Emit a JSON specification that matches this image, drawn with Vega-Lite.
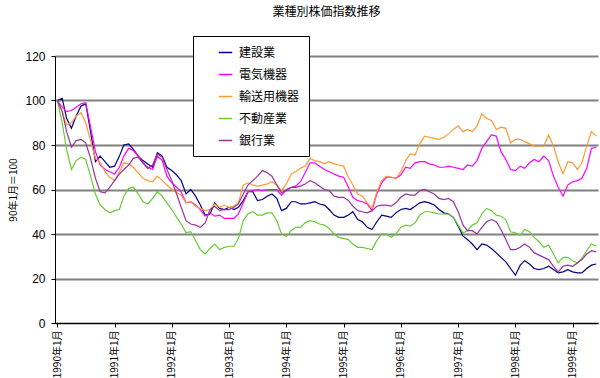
{
  "$schema": "https://vega.github.io/schema/vega-lite/v6.json",
  "width": 543,
  "height": 267,
  "autosize": {"type": "none"},
  "padding": {"left": 55, "top": 56, "right": 2, "bottom": 55},
  "background": "white",
  "title": {"text": "業種別株価指数推移", "font": "Noto Sans CJK JP", "fontSize": 12, "fontWeight": "normal", "color": "black", "frame": "group", "offset": 17},
  "data": {
    "values": [
      {"d":"1990/01/01","建設業":100,"電気機器":100,"輸送用機器":100,"不動産業":100,"銀行業":100},
      {"d":"1990/02/01","建設業":101,"電気機器":97,"輸送用機器":95,"不動産業":90,"銀行業":95},
      {"d":"1990/03/01","建設業":92,"電気機器":95,"輸送用機器":89,"不動産業":78,"銀行業":86},
      {"d":"1990/04/01","建設業":87.5,"電気機器":95.5,"輸送用機器":90,"不動産業":69,"銀行業":79},
      {"d":"1990/05/01","建設業":93,"電気機器":97,"輸送用機器":93,"不動産業":73,"銀行業":82},
      {"d":"1990/06/01","建設業":97.5,"電気機器":98.5,"輸送用機器":94.5,"不動産業":74.5,"銀行業":82.5},
      {"d":"1990/07/01","建設業":98.5,"電気機器":99,"輸送用機器":90,"不動産業":73.5,"銀行業":81},
      {"d":"1990/08/01","建設業":86,"電気機器":88,"輸送用機器":82,"不動産業":66,"銀行業":74},
      {"d":"1990/09/01","建設業":72.5,"電気機器":77,"輸送用機器":74,"不動産業":58,"銀行業":65},
      {"d":"1990/10/01","建設業":75,"電気機器":71,"輸送用機器":72,"不動産業":53,"銀行業":59},
      {"d":"1990/11/01","建設業":72.5,"電気機器":69,"輸送用機器":68,"不動産業":51,"銀行業":58.5},
      {"d":"1990/12/01","建設業":70,"電気機器":68,"輸送用機器":65.5,"不動産業":49.5,"銀行業":61},
      {"d":"1991/01/01","建設業":70.5,"電気機器":67,"輸送用機器":64,"不動産業":50.5,"銀行業":64},
      {"d":"1991/02/01","建設業":75,"電気機器":70,"輸送用機器":68,"不動産業":51,"銀行業":67},
      {"d":"1991/03/01","建設業":80,"電気機器":75,"輸送用機器":72,"不動産業":57,"銀行業":69},
      {"d":"1991/04/01","建設業":80.5,"電気機器":78.5,"輸送用機器":71.5,"不動産業":60.5,"銀行業":71},
      {"d":"1991/05/01","建設業":78,"電気機器":77.5,"輸送用機器":70,"不動産業":61,"銀行業":74},
      {"d":"1991/06/01","建設業":75,"電気機器":75,"輸送用機器":67.5,"不動産業":58,"銀行業":74.5},
      {"d":"1991/07/01","建設業":73,"電気機器":72,"輸送用機器":65,"不動産業":54.5,"銀行業":72},
      {"d":"1991/08/01","建設業":71.5,"電気機器":70,"輸送用機器":64,"不動産業":53.5,"銀行業":69.5},
      {"d":"1991/09/01","建設業":70,"電気機器":69,"輸送用機器":63.5,"不動産業":56,"銀行業":71},
      {"d":"1991/10/01","建設業":76.5,"電気機器":75,"輸送用機器":66,"不動産業":59,"銀行業":76},
      {"d":"1991/11/01","建設業":75,"電気機器":73,"輸送用機器":64,"不動産業":57,"銀行業":74.5},
      {"d":"1991/12/01","建設業":70,"電気機器":66,"輸送用機器":62,"不動産業":54,"銀行業":69},
      {"d":"1992/01/01","建設業":68.5,"電気機器":63,"輸送用機器":60,"不動産業":51,"銀行業":64},
      {"d":"1992/02/01","建設業":66.5,"電気機器":61,"輸送用機器":58.5,"不動産業":47.5,"銀行業":58},
      {"d":"1992/03/01","建設業":64,"電気機器":59,"輸送用機器":57.5,"不動産業":44.5,"銀行業":52},
      {"d":"1992/04/01","建設業":58,"電気機器":54,"輸送用機器":54,"不動産業":40.5,"銀行業":46},
      {"d":"1992/05/01","建設業":60,"電気機器":54.5,"輸送用機器":54.5,"不動産業":41,"銀行業":44.5},
      {"d":"1992/06/01","建設業":57,"電気機器":53,"輸送用機器":52.5,"不動産業":37,"銀行業":44},
      {"d":"1992/07/01","建設業":53,"電気機器":51,"輸送用機器":51.5,"不動産業":33,"銀行業":43},
      {"d":"1992/08/01","建設業":48.5,"電気機器":48,"輸送用機器":50.5,"不動産業":31,"銀行業":45},
      {"d":"1992/09/01","建設業":49,"電気機器":49.5,"輸送用機器":51,"不動産業":33.5,"銀行業":51},
      {"d":"1992/10/01","建設業":54,"電気機器":48,"輸送用機器":53.5,"不動産業":35.5,"銀行業":52.5},
      {"d":"1992/11/01","建設業":51.5,"電気機器":48.5,"輸送用機器":52,"不動産業":33,"銀行業":50.5},
      {"d":"1992/12/01","建設業":51,"電気機器":47,"輸送用機器":53,"不動産業":34,"銀行業":51},
      {"d":"1993/01/01","建設業":52,"電気機器":47,"輸送用機器":52,"不動産業":34.5,"銀行業":51},
      {"d":"1993/02/01","建設業":51,"電気機器":47,"輸送用機器":52.5,"不動産業":34.5,"銀行業":52},
      {"d":"1993/03/01","建設業":52,"電気機器":49,"輸送用機器":54,"不動産業":38,"銀行業":53.5},
      {"d":"1993/04/01","建設業":55,"電気機器":54,"輸送用機器":62,"不動産業":46,"銀行業":58},
      {"d":"1993/05/01","建設業":59,"電気機器":59,"輸送用機器":63,"不動産業":49,"銀行業":62},
      {"d":"1993/06/01","建設業":59,"電気機器":59.5,"輸送用機器":62,"不動産業":50,"銀行業":64},
      {"d":"1993/07/01","建設業":55,"電気機器":60,"輸送用機器":61.5,"不動産業":48.5,"銀行業":66},
      {"d":"1993/08/01","建設業":55.5,"電気機器":59.5,"輸送用機器":62,"不動産業":48.5,"銀行業":68.5},
      {"d":"1993/09/01","建設業":57,"電気機器":60,"輸送用機器":62.5,"不動産業":49.5,"銀行業":67.5},
      {"d":"1993/10/01","建設業":58,"電気機器":60,"輸送用機器":63.5,"不動産業":49.5,"銀行業":66},
      {"d":"1993/11/01","建設業":56,"電気機器":60,"輸送用機器":62,"不動産業":46,"銀行業":62},
      {"d":"1993/12/01","建設業":50.5,"電気機器":57.5,"輸送用機器":59.5,"不動産業":40,"銀行業":58.5},
      {"d":"1994/01/01","建設業":51.5,"電気機器":60,"輸送用機器":62.5,"不動産業":39,"銀行業":59.5},
      {"d":"1994/02/01","建設業":54.5,"電気機器":61,"輸送用機器":67,"不動産業":41.5,"銀行業":61},
      {"d":"1994/03/01","建設業":54.5,"電気機器":61.5,"輸送用機器":68,"不動産業":43,"銀行業":61},
      {"d":"1994/04/01","建設業":53.5,"電気機器":63.5,"輸送用機器":69.5,"不動産業":43,"銀行業":61.5},
      {"d":"1994/05/01","建設業":53.5,"電気機器":67.5,"輸送用機器":70.5,"不動産業":45,"銀行業":62.5},
      {"d":"1994/06/01","建設業":54,"電気機器":72,"輸送用機器":74,"不動産業":46,"銀行業":64},
      {"d":"1994/07/01","建設業":54.5,"電気機器":72,"輸送用機器":73,"不動産業":45.5,"銀行業":63},
      {"d":"1994/08/01","建設業":53.5,"電気機器":70.5,"輸送用機器":72.5,"不動産業":44.5,"銀行業":61.5},
      {"d":"1994/09/01","建設業":53,"電気機器":69,"輸送用機器":71.5,"不動産業":44,"銀行業":60},
      {"d":"1994/10/01","建設業":51,"電気機器":68,"輸送用機器":72.5,"不動産業":42.5,"銀行業":59.5},
      {"d":"1994/11/01","建設業":48.5,"電気機器":67,"輸送用機器":71.5,"不動産業":40,"銀行業":57},
      {"d":"1994/12/01","建設業":47.5,"電気機器":66,"輸送用機器":71,"不動産業":38.5,"銀行業":56.5},
      {"d":"1995/01/01","建設業":47.5,"電気機器":65.5,"輸送用機器":70.5,"不動産業":38,"銀行業":56.5},
      {"d":"1995/02/01","建設業":48.5,"電気機器":61,"輸送用機器":65.5,"不動産業":37.5,"銀行業":55},
      {"d":"1995/03/01","建設業":50,"電気機器":56.5,"輸送用機器":62,"不動産業":35.5,"銀行業":52.5},
      {"d":"1995/04/01","建設業":46.5,"電気機器":55,"輸送用機器":58,"不動産業":34,"銀行業":50.5},
      {"d":"1995/05/01","建設業":45.5,"電気機器":54.5,"輸送用機器":57,"不動産業":34,"銀行業":50},
      {"d":"1995/06/01","建設業":43,"電気機器":53.5,"輸送用機器":54,"不動産業":33.5,"銀行業":49.5},
      {"d":"1995/07/01","建設業":42,"電気機器":50.5,"輸送用機器":51.5,"不動産業":33,"銀行業":50.5},
      {"d":"1995/08/01","建設業":45.5,"電気機器":58,"輸送用機器":59,"不動産業":37,"銀行業":52.5},
      {"d":"1995/09/01","建設業":48.5,"電気機器":63,"輸送用機器":64,"不動産業":40,"銀行業":53},
      {"d":"1995/10/01","建設業":48,"電気機器":65.5,"輸送用機器":66,"不動産業":40,"銀行業":53},
      {"d":"1995/11/01","建設業":47.5,"電気機器":65.5,"輸送用機器":65.5,"不動産業":38.5,"銀行業":52.5},
      {"d":"1995/12/01","建設業":49.5,"電気機器":65,"輸送用機器":65,"不動産業":40,"銀行業":54},
      {"d":"1996/01/01","建設業":51,"電気機器":66.5,"輸送用機器":68,"不動産業":43,"銀行業":56.5},
      {"d":"1996/02/01","建設業":51.5,"電気機器":70,"輸送用機器":73,"不動産業":44,"銀行業":58},
      {"d":"1996/03/01","建設業":51,"電気機器":69.5,"輸送用機器":76,"不動産業":43.5,"銀行業":57.5},
      {"d":"1996/04/01","建設業":52.5,"電気機器":72,"輸送用機器":75.5,"不動産業":45,"銀行業":57.5},
      {"d":"1996/05/01","建設業":54,"電気機器":72.5,"輸送用機器":80.5,"不動産業":48.5,"銀行業":59.5},
      {"d":"1996/06/01","建設業":54.5,"電気機器":72.5,"輸送用機器":84,"不動産業":50,"銀行業":60},
      {"d":"1996/07/01","建設業":54,"電気機器":71.5,"輸送用機器":83.5,"不動産業":50,"銀行業":59},
      {"d":"1996/08/01","建設業":53,"電気機器":71,"輸送用機器":83,"不動産業":49.5,"銀行業":58},
      {"d":"1996/09/01","建設業":51,"電気機器":70,"輸送用機器":82.5,"不動産業":49,"銀行業":56},
      {"d":"1996/10/01","建設業":49.5,"電気機器":70,"輸送用機器":83.5,"不動産業":49,"銀行業":55.5},
      {"d":"1996/11/01","建設業":49,"電気機器":70.5,"輸送用機器":85,"不動産業":49,"銀行業":56},
      {"d":"1996/12/01","建設業":47.5,"電気機器":70,"輸送用機器":87,"不動産業":47.5,"銀行業":54.5},
      {"d":"1997/01/01","建設業":43.5,"電気機器":69.5,"輸送用機器":88.5,"不動産業":44,"銀行業":50},
      {"d":"1997/02/01","建設業":39,"電気機器":69,"輸送用機器":86,"不動産業":40.5,"銀行業":44},
      {"d":"1997/03/01","建設業":37.5,"電気機器":71,"輸送用機器":87,"不動産業":41.5,"銀行業":41.5},
      {"d":"1997/04/01","建設業":35.5,"電気機器":70.5,"輸送用機器":86,"不動産業":44,"銀行業":41.5},
      {"d":"1997/05/01","建設業":33,"電気機器":73,"輸送用機器":88.5,"不動産業":45,"銀行業":40},
      {"d":"1997/06/01","建設業":35.5,"電気機器":78.5,"輸送用機器":94,"不動産業":49,"銀行業":43},
      {"d":"1997/07/01","建設業":35,"電気機器":81.5,"輸送用機器":92,"不動産業":51.5,"銀行業":45.5},
      {"d":"1997/08/01","建設業":33.5,"電気機器":84.5,"輸送用機器":91,"不動産業":50.5,"銀行業":46.5},
      {"d":"1997/09/01","建設業":31.5,"電気機器":84,"輸送用機器":87,"不動産業":48.5,"銀行業":45.5},
      {"d":"1997/10/01","建設業":29.5,"電気機器":77,"輸送用機器":88,"不動産業":48,"銀行業":42},
      {"d":"1997/11/01","建設業":27.5,"電気機器":73.5,"輸送用機器":87.5,"不動産業":46.5,"銀行業":37.5},
      {"d":"1997/12/01","建設業":24.5,"電気機器":69,"輸送用機器":81,"不動産業":41,"銀行業":33},
      {"d":"1998/01/01","建設業":21.5,"電気機器":68.5,"輸送用機器":82.5,"不動産業":40.5,"銀行業":33},
      {"d":"1998/02/01","建設業":26,"電気機器":70.5,"輸送用機器":82.5,"不動産業":39.5,"銀行業":34},
      {"d":"1998/03/01","建設業":28,"電気機器":69.5,"輸送用機器":81.5,"不動産業":42,"銀行業":35.5},
      {"d":"1998/04/01","建設業":26.5,"電気機器":72,"輸送用機器":80.5,"不動産業":41,"銀行業":34},
      {"d":"1998/05/01","建設業":24.5,"電気機器":73.5,"輸送用機器":79.5,"不動産業":38.5,"銀行業":31.5},
      {"d":"1998/06/01","建設業":24,"電気機器":72.5,"輸送用機器":79.5,"不動産業":36.5,"銀行業":30.5},
      {"d":"1998/07/01","建設業":24.5,"電気機器":75,"輸送用機器":79.5,"不動産業":34,"銀行業":29.5},
      {"d":"1998/08/01","建設業":25.5,"電気機器":73,"輸送用機器":84.5,"不動産業":35,"銀行業":28.5},
      {"d":"1998/09/01","建設業":24,"電気機器":66,"輸送用機器":79.5,"不動産業":31,"銀行業":25.5},
      {"d":"1998/10/01","建設業":22.5,"電気機器":61,"輸送用機器":72.5,"不動産業":27,"銀行業":23},
      {"d":"1998/11/01","建設業":23,"電気機器":57,"輸送用機器":67,"不動産業":29.5,"銀行業":25.5},
      {"d":"1998/12/01","建設業":24,"電気機器":62,"輸送用機器":72.5,"不動産業":29.5,"銀行業":26},
      {"d":"1999/01/01","建設業":23,"電気機器":63.5,"輸送用機器":72,"不動産業":28,"銀行業":25.5},
      {"d":"1999/02/01","建設業":22.5,"電気機器":64,"輸送用機器":69,"不動産業":27,"銀行業":27},
      {"d":"1999/03/01","建設業":22.5,"電気機器":65,"輸送用機器":72,"不動産業":29,"銀行業":28.5},
      {"d":"1999/04/01","建設業":24.5,"電気機器":69.5,"輸送用機器":79.5,"不動産業":32.5,"銀行業":31},
      {"d":"1999/05/01","建設業":26,"電気機器":78.5,"輸送用機器":86,"不動産業":35.5,"銀行業":32.5},
      {"d":"1999/06/01","建設業":26.5,"電気機器":79,"輸送用機器":84,"不動産業":34.5,"銀行業":32}
    ]
  },
  "transform": [
    {"fold": ["建設業", "電気機器", "輸送用機器", "不動産業", "銀行業"], "as": ["series", "v"]}
  ],
  "mark": {"type": "line", "strokeWidth": 1.2},
  "encoding": {
    "x": {
      "field": "d", "type": "temporal",
      "scale": {"domain": [{"year": 1989, "month": 12, "date": 17}, {"year": 1999, "month": 6, "date": 12}]},
      "axis": {
        "title": null,
        "values": [{"year":1990,"month":1,"date":1},{"year":1991,"month":1,"date":1},{"year":1992,"month":1,"date":1},{"year":1993,"month":1,"date":1},{"year":1994,"month":1,"date":1},{"year":1995,"month":1,"date":1},{"year":1996,"month":1,"date":1},{"year":1997,"month":1,"date":1},{"year":1998,"month":1,"date":1},{"year":1999,"month":1,"date":1}],
        "labelExpr": "year(datum.value) + '年1月'",
        "labelAngle": -90,
        "labelFont": "Noto Sans CJK JP",
        "labelFontSize": 10,
        "labelColor": "black",
        "labelPadding": 3,
        "tickSize": 4,
        "tickColor": "black",
        "domainColor": "black",
        "grid": false
      }
    },
    "y": {
      "field": "v", "type": "quantitative",
      "scale": {"domain": [0, 120], "nice": false},
      "axis": {
        "title": "90年1月＝100",
        "titleFont": "Noto Sans CJK JP",
        "titleFontSize": 10,
        "titleFontWeight": "normal",
        "titleColor": "black",
        "titlePadding": 6,
        "values": [0, 20, 40, 60, 80, 100, 120],
        "labelFont": "Liberation Sans",
        "labelFontSize": 12,
        "labelColor": "black",
        "labelPadding": 6,
        "tickSize": 4,
        "tickColor": "black",
        "domainColor": "black",
        "grid": true,
        "gridColor": "#808080",
        "gridWidth": 2
      }
    },
    "color": {
      "field": "series", "type": "nominal",
      "scale": {"domain": ["建設業", "電気機器", "輸送用機器", "不動産業", "銀行業"], "range": ["#000080", "#FF00FF", "#FF9933", "#66CC33", "#993399"]},
      "legend": {
        "title": null,
        "orient": "none",
        "legendX": 138,
        "legendY": -20,
        "fillColor": "white",
        "strokeColor": "black",
        "padding": 9,
        "symbolType": "stroke",
        "symbolSize": 180,
        "symbolStrokeWidth": 1.5,
        "symbolOffset": 16,
        "labelFont": "Noto Sans CJK JP",
        "labelFontSize": 12,
        "labelColor": "black",
        "labelOffset": 6,
        "rowPadding": 8
      }
    }
  },
  "config": {"view": {"stroke": null}}
}
